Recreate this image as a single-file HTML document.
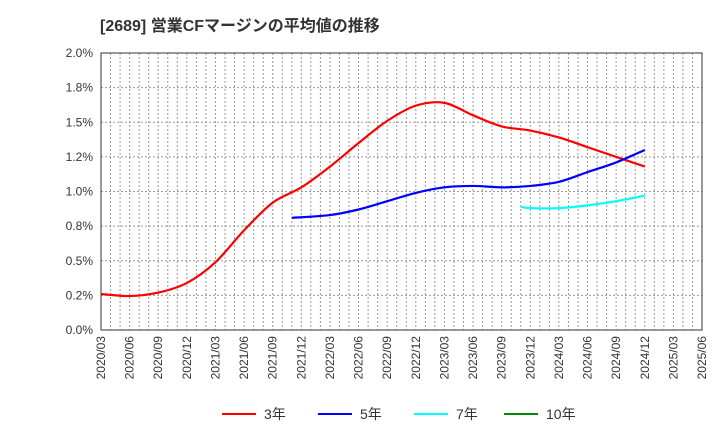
<!DOCTYPE html>
<html><head><meta charset="utf-8"><style>
body{margin:0;background:#fff;font-family:"Liberation Sans","Noto Sans CJK JP",sans-serif}
</style></head><body>
<svg width="720" height="440" xmlns="http://www.w3.org/2000/svg">
<text x="100" y="31" font-size="16" font-weight="bold" fill="#333" font-family="Liberation Sans, Noto Sans CJK JP, sans-serif">[2689]  営業CFマージンの平均値の推移</text>
<g id="grid"></g>
<g id="axes"></g>
<g id="series"></g>
<g id="legend"></g>
</svg>
<script>
const xTickLabels=["2020/03","2020/06","2020/09","2020/12","2021/03","2021/06","2021/09","2021/12","2022/03","2022/06","2022/09","2022/12","2023/03","2023/06","2023/09","2023/12","2024/03","2024/06","2024/09","2024/12","2025/03","2025/06"];
const yTickLabels=["0.0%","0.2%","0.5%","0.8%","1.0%","1.2%","1.5%","1.8%","2.0%"];
const yTickValues=[0,0.25,0.5,0.75,1,1.25,1.5,1.75,2];
const months3=[0,3,6,9,12,15,18,21,24,27,30,33,36,39,42,45,48,51,54,57];
const vals3=[0.26,0.245,0.27,0.34,0.49,0.72,0.92,1.03,1.18,1.35,1.51,1.62,1.64,1.55,1.47,1.44,1.39,1.32,1.25,1.18];
const months5=[20,24,27,30,33,36,39,42,45,48,51,54,57];
const vals5=[0.81,0.83,0.87,0.93,0.99,1.03,1.04,1.03,1.04,1.07,1.14,1.21,1.30];
const months7=[44,45,48,51,54,57];
const vals7=[0.89,0.88,0.88,0.90,0.93,0.97];
const L=101,R=702,T=53,B=330,NM=63;
const X=m=>L+(R-L)*m/NM, Y=v=>B-(B-T)*v/2;
const NS="http://www.w3.org/2000/svg";
function mk(t,a,p){const e=document.createElementNS(NS,t);for(const k in a)e.setAttribute(k,a[k]);p.appendChild(e);return e;}
const grid=document.getElementById('grid'),axes=document.getElementById('axes'),ser=document.getElementById('series'),leg=document.getElementById('legend');
for(let m=1;m<NM;m++){const l=mk('line',{x1:X(m),x2:X(m),y1:T,y2:B,stroke:'#999','stroke-dasharray':'2,2','stroke-width':1},grid);

}
yTickValues.forEach((v,i)=>{if(i>0){const l=mk('line',{x1:L,x2:R,y1:Y(v),y2:Y(v),stroke:'#999','stroke-dasharray':'2,2'},grid);

}
const t=mk('text',{x:L-8,y:Y(v)+4,'text-anchor':'end','font-size':12,fill:'#333'},axes);t.textContent=yTickLabels[i];

});
const fr=mk('rect',{x:L,y:T,width:R-L,height:B-T,fill:'none',stroke:'#333','stroke-width':1},axes);


xTickLabels.forEach((s,i)=>{const x=X(i*3)+4,y=B+6;const t=mk('text',{x:x,y:y,transform:`rotate(-90 ${x} ${y})`,'text-anchor':'end','font-size':12,fill:'#333'},axes);t.textContent=s;

});
function path(ms,vs){const p=ms.map((m,i)=>[X(m),Y(vs[i])]);let d=`M${p[0][0]},${p[0][1]}`;
for(let i=0;i<p.length-1;i++){const p0=p[i-1]||p[i],p1=p[i],p2=p[i+1],p3=p[i+2]||p2;
d+=` C${p1[0]+(p2[0]-p0[0])/6},${p1[1]+(p2[1]-p0[1])/6} ${p2[0]-(p3[0]-p1[0])/6},${p2[1]-(p3[1]-p1[1])/6} ${p2[0]},${p2[1]}`;}return d;}
[[months3,vals3,'#f00','series-3yr'],[months5,vals5,'#00f','series-5yr'],[months7,vals7,'#0ff','series-7yr']].forEach(s=>{
const e=mk('path',{d:path(s[0],s[1]),fill:'none',stroke:s[2],'stroke-width':2.2},ser);

});
[['3年','#f00',222],['5年','#00f',318],['7年','#0ff',414],['10年','#080',504]].forEach(l=>{
const g=mk('g',{},leg);


mk('line',{x1:l[2],x2:l[2]+34,y1:414,y2:414,stroke:l[1],'stroke-width':2},g);
const t=mk('text',{x:l[2]+42,y:419,'font-size':14,fill:'#333'},g);t.textContent=l[0];});
</script>
</body></html>
